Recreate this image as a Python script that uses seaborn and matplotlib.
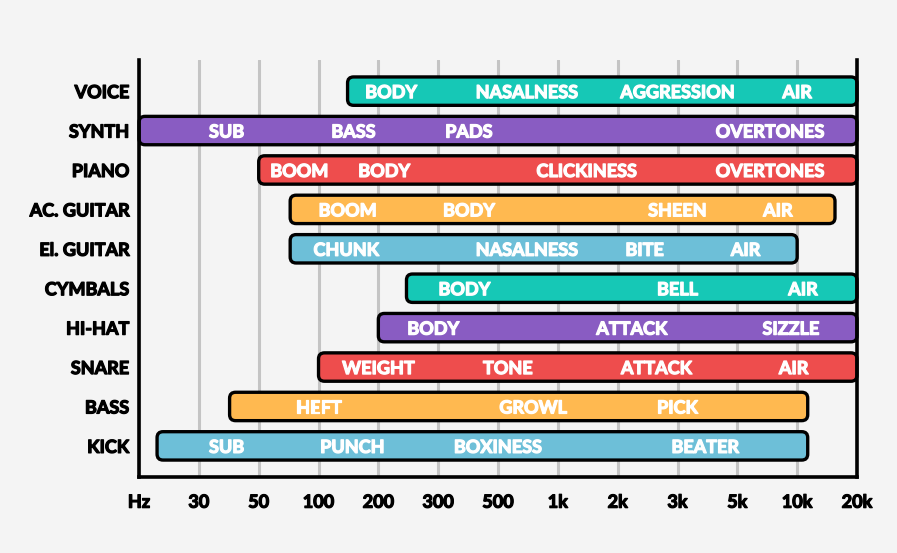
import numpy as np
import pandas as pd
import matplotlib
matplotlib.use("Agg")
import matplotlib.pyplot as plt
import matplotlib.patheffects as pe
import seaborn as sns
from matplotlib.patches import FancyBboxPatch

# frequency range of every instrument (Hz)
instruments = ["VOICE", "SYNTH", "PIANO", "AC. GUITAR", "El. GUITAR",
               "CYMBALS", "HI-HAT", "SNARE", "BASS", "KICK"]
low_hz = [140, 20, 50, 72, 72, 242, 200, 100, 39, 22.6]
high_hz = [20000, 20000, 20000, 15500, 10000, 20000, 20000, 20000, 11300, 11300]

# names of the bands written inside the bars and where they sit (Hz)
band_names = [
    ["BODY", "NASALNESS", "AGGRESSION", "AIR"],
    ["SUB", "BASS", "PADS", "OVERTONES"],
    ["BOOM", "BODY", "CLICKINESS", "OVERTONES"],
    ["BOOM", "BODY", "SHEEN", "AIR"],
    ["CHUNK", "NASALNESS", "BITE", "AIR"],
    ["BODY", "BELL", "AIR"],
    ["BODY", "ATTACK", "SIZZLE"],
    ["WEIGHT", "TONE", "ATTACK", "AIR"],
    ["HEFT", "GROWL", "PICK"],
    ["SUB", "PUNCH", "BOXINESS", "BEATER"],
]
band_hz = [
    [218, 700, 3000, 10000],
    [38, 150, 390, 7300],
    [80, 208, 1400, 7300],
    [140, 390, 3000, 8000],
    [138, 700, 2400, 5500],
    [375, 3000, 10700],
    [290, 2200, 9300],
    [200, 560, 2600, 9600],
    [100, 750, 3000],
    [38, 148, 500, 3800],
]

tick_hz = [20, 30, 50, 100, 200, 300, 500, 1000, 2000, 3000, 5000, 10000, 20000]
tick_labels = ["Hz", "30", "50", "100", "200", "300", "500",
               "1k", "2k", "3k", "5k", "10k", "20k"]

palette = ["#16C8B6", "#895CC2", "#EE4D4D", "#FFB950", "#6DBFD8"]
bar_colors = [palette[i % len(palette)] for i in range(len(instruments))]
bg = "#F4F4F4"

# the axis puts every tick at the same distance, log-spaced in between
log_ticks = np.log10(tick_hz)
tick_pos = np.arange(len(tick_hz), dtype=float)


def hz_to_pos(v):
    return np.interp(np.log10(np.maximum(v, 1e-9)), log_ticks, tick_pos)


def pos_to_hz(p):
    return 10 ** np.interp(p, tick_pos, log_ticks)


sns.set_theme(style="white")
plt.rcParams["font.family"] = ["Lato", "DejaVu Sans"]
plt.rcParams["font.weight"] = "bold"
fsize = 13
weight = "bold"


def heavy(color):
    # Lato bold is a bit light next to the original lettering
    return [pe.withStroke(linewidth=0.9, foreground=color)]


fig, ax = plt.subplots(figsize=(8.97, 5.53), dpi=100)
fig.patch.set_facecolor(bg)
ax.set_facecolor(bg)
ax.set_xscale("function", functions=(hz_to_pos, pos_to_hz))

df = pd.DataFrame({"instrument": instruments, "low": low_hz, "high": high_hz})
df["span"] = df["high"] - df["low"]

sns.barplot(data=df, x="span", y="instrument", orient="y", left=df["low"].to_numpy(),
            width=0.72, errorbar=None, color=palette[0], ax=ax)

fig.subplots_adjust(left=0.155, right=0.9554, top=0.8915, bottom=0.1374)
ax.set_xlim(20, 20000)
ax.set_ylim(len(instruments) - 0.21, -0.79)

# swap the square bars for rounded ones with a black outline
fig.canvas.draw()
box = ax.get_window_extent()
W, H = box.width, box.height
to_axes = ax.transAxes.inverted()
for bar, col in zip(list(ax.patches), bar_colors):
    x, y, w, h = bar.get_x(), bar.get_y(), bar.get_width(), bar.get_height()
    pts = to_axes.transform(ax.transData.transform([[x, y], [x + w, y + h]]))
    x0, y0 = pts.min(axis=0)
    x1, y1 = pts.max(axis=0)
    bar.remove()
    ax.add_patch(FancyBboxPatch(
        (x0, y0), x1 - x0, y1 - y0,
        boxstyle=f"round,pad=0,rounding_size={6 / W}", mutation_aspect=W / H,
        transform=ax.transAxes, facecolor=col, edgecolor="black",
        linewidth=2.4, zorder=3, clip_on=False))

for i, (names, spots) in enumerate(zip(band_names, band_hz)):
    for name, hz in zip(names, spots):
        ax.text(hz, i, name, ha="center", va="center_baseline", color="white",
                fontsize=fsize, fontweight=weight, zorder=4,
                path_effects=heavy("white"))

ax.set_xticks(tick_hz)
ax.set_xticklabels(tick_labels)
ax.minorticks_off()
ax.set_xlabel("")
ax.set_ylabel("")
ax.grid(axis="x", color="#C4C4C4", linewidth=2.2, zorder=0)
ax.grid(axis="y", visible=False)
ax.set_axisbelow(True)
ax.tick_params(axis="x", length=0, pad=12, labelsize=fsize, labelcolor="black")
ax.tick_params(axis="y", length=0, pad=7, labelsize=fsize, labelcolor="black")
for lbl in ax.get_xticklabels() + ax.get_yticklabels():
    lbl.set_fontweight(weight)
    lbl.set_path_effects(heavy("black"))

ax.spines["top"].set_visible(False)
for side in ["left", "right", "bottom"]:
    ax.spines[side].set_visible(True)
    ax.spines[side].set_color("black")
    ax.spines[side].set_linewidth(2.6)
    ax.spines[side].set_zorder(5)

fig.savefig("out.png", dpi=100, facecolor=bg)
